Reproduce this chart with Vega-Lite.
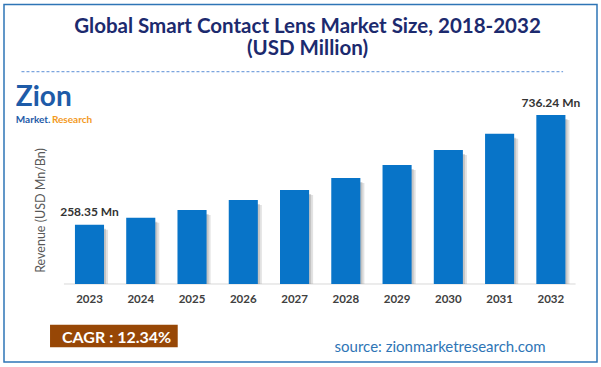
{
  "$schema": "https://vega.github.io/schema/vega-lite/v6.json",
  "autosize": {"type": "none"},
  "width": 593,
  "height": 357.5,
  "padding": {"left": 4, "top": 4.5, "right": 4, "bottom": 5},
  "background": "white",
  "config": {
    "view": {"stroke": "#2e75b6", "strokeWidth": 1.5, "fill": "white"},
    "font": "Lato"
  },
  "title": {
    "text": "Global Smart Contact Lens Market Size, 2018-2032",
    "subtitle": "(USD Million)",
    "anchor": "middle",
    "frame": "group",
    "dx": 7,
    "offset": -54.5,
    "font": "Lato",
    "fontSize": 20.5,
    "fontWeight": "bold",
    "color": "#1c2a6e",
    "subtitleFont": "Lato",
    "subtitleFontSize": 20.5,
    "subtitleFontWeight": "bold",
    "subtitleColor": "#1c2a6e",
    "subtitlePadding": 1.5
  },
  "data": {
    "values": [
      {"year": "2023", "value": 258.35, "label": "258.35 Mn"},
      {"year": "2024", "value": 289, "label": ""},
      {"year": "2025", "value": 322, "label": ""},
      {"year": "2026", "value": 366, "label": ""},
      {"year": "2027", "value": 410, "label": ""},
      {"year": "2028", "value": 462, "label": ""},
      {"year": "2029", "value": 519, "label": ""},
      {"year": "2030", "value": 584, "label": ""},
      {"year": "2031", "value": 655, "label": ""},
      {"year": "2032", "value": 736.24, "label": "736.24 Mn"}
    ]
  },
  "encoding": {
    "x": {
      "field": "year",
      "type": "nominal",
      "scale": {"type": "band", "paddingInner": 0.4325, "paddingOuter": 1.019, "align": 0.692, "round": false},
      "axis": {
        "title": null,
        "orient": "bottom",
        "offset": -78,
        "domain": false,
        "ticks": false,
        "tickSize": 0,
        "grid": false,
        "labelAngle": 0,
        "labelPadding": 15,
        "labelBaseline": "middle",
        "labelFont": "Lato",
        "labelFontSize": 11.5,
        "labelFontWeight": "bold",
        "labelColor": "#404040"
      }
    },
    "y": {
      "field": "value",
      "type": "quantitative",
      "scale": {"domain": [-339.9, 1217.9], "zero": false, "nice": false},
      "axis": {
        "title": "Revenue (USD Mn/Bn)",
        "labels": false,
        "ticks": false,
        "domain": false,
        "grid": false,
        "titleX": 36,
        "titleY": 205.5,
        "titleAngle": -90,
        "titleAlign": "center",
        "titleBaseline": "middle",
        "titleFont": "Lato",
        "titleFontSize": 12.5,
        "titleFontWeight": "normal",
        "titleColor": "#595959"
      }
    }
  },
  "layer": [
    {
      "transform": [{"filter": "datum.year == '2023'"}],
      "mark": {"type": "rule", "color": "#d9d9d9", "strokeWidth": 1},
      "encoding": {
        "x": {"datum": "2023", "type": "nominal", "bandPosition": -0.379},
        "x2": {"datum": "2032", "bandPosition": 1.35},
        "y": {"datum": 0, "type": "quantitative"}
      }
    },
    {
      "transform": [{"filter": "datum.year == '2023'"}],
      "mark": {"type": "rule", "color": "#5b8fd6", "strokeWidth": 1, "strokeDash": [3, 2]},
      "encoding": {
        "x": {"datum": "2023", "type": "nominal", "bandPosition": -1.838},
        "x2": {"datum": "2032", "bandPosition": 0.92},
        "y": {"datum": 925, "type": "quantitative"}
      }
    },
    {
      "mark": {"type": "bar", "color": "#8c8c8c", "opacity": 0.25, "xOffset": 4, "x2Offset": 4, "yOffset": 5},
      "encoding": {"y2": {"datum": 0}}
    },
    {
      "mark": {"type": "bar", "color": "#8c8c8c", "opacity": 0.35, "xOffset": 2, "x2Offset": 2, "yOffset": 4},
      "encoding": {"y2": {"datum": 0}}
    },
    {
      "mark": {"type": "bar", "color": "#0874c8"},
      "encoding": {"y2": {"datum": 0}}
    },
    {
      "transform": [{"filter": "datum.label != ''"}],
      "mark": {"type": "text", "font": "Lato", "fontSize": 12, "fontWeight": "bold", "color": "#333333", "baseline": "middle", "dy": -12.5},
      "encoding": {"text": {"field": "label"}}
    },
    {
      "transform": [{"filter": "datum.year == '2023'"}],
      "mark": {"type": "text", "text": "Zion", "font": "Lato", "fontSize": 28, "fontWeight": "bold", "color": "#1e5ba8", "align": "left", "baseline": "alphabetic"},
      "encoding": {
        "x": {"datum": "2023", "type": "nominal", "bandPosition": -2.034},
        "y": {"datum": 775.6, "type": "quantitative"}
      }
    },
    {
      "transform": [{"filter": "datum.year == '2023'"}],
      "mark": {"type": "text", "text": "Market.", "font": "Lato", "fontSize": 10, "fontWeight": "bold", "color": "#1e5ba8", "align": "left", "baseline": "alphabetic"},
      "encoding": {
        "x": {"datum": "2023", "type": "nominal", "bandPosition": -2.034},
        "y": {"datum": 701.5, "type": "quantitative"}
      }
    },
    {
      "transform": [{"filter": "datum.year == '2023'"}],
      "mark": {"type": "text", "text": "Research", "font": "Lato", "fontSize": 10, "fontWeight": "bold", "color": "#f39a1e", "align": "left", "baseline": "alphabetic"},
      "encoding": {
        "x": {"datum": "2023", "type": "nominal", "bandPosition": -0.793},
        "y": {"datum": 701.5, "type": "quantitative"}
      }
    },
    {
      "transform": [{"filter": "datum.year == '2023'"}],
      "mark": {"type": "point", "shape": "M-1,-0.177L1,-0.177L1,0.177L-1,0.177Z", "size": 16307, "filled": true, "color": "#974706", "opacity": 1, "strokeWidth": 0},
      "encoding": {
        "x": {"datum": "2023", "type": "nominal", "bandPosition": 1.338},
        "y": {"datum": -226.6, "type": "quantitative"}
      }
    },
    {
      "transform": [{"filter": "datum.year == '2023'"}],
      "mark": {"type": "text", "text": "CAGR :  12.34%", "font": "Lato", "fontSize": 16, "fontWeight": "bold", "color": "white", "align": "center", "baseline": "middle"},
      "encoding": {
        "x": {"datum": "2023", "type": "nominal", "bandPosition": 1.431},
        "y": {"datum": -235.3, "type": "quantitative"}
      }
    },
    {
      "transform": [{"filter": "datum.year == '2023'"}],
      "mark": {"type": "text", "text": "source: zionmarketresearch.com", "font": "Lato", "fontSize": 15, "fontWeight": "normal", "color": "#2e75b6", "align": "left", "baseline": "middle"},
      "encoding": {
        "x": {"datum": "2028", "type": "nominal", "bandPosition": 0.114},
        "y": {"datum": -274.5, "type": "quantitative"}
      }
    }
  ]
}
